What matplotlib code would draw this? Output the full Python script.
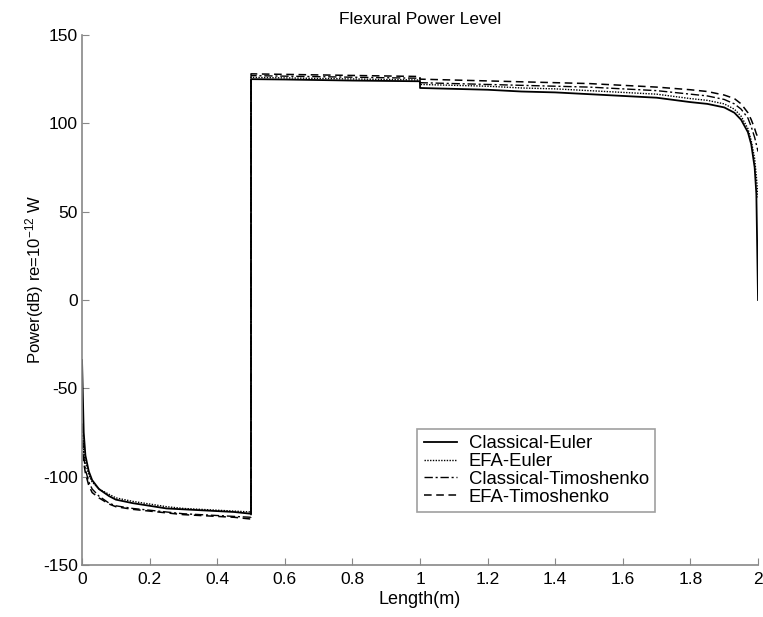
import matplotlib
matplotlib.use("Agg")
import matplotlib.pyplot as plt

plt.rcParams['font.family'] = ['Liberation Sans', 'DejaVu Sans']
plt.rcParams['axes.unicode_minus'] = False
plt.rcParams['mathtext.fontset'] = 'custom'
plt.rcParams['mathtext.rm'] = 'Liberation Sans'
plt.rcParams['mathtext.it'] = 'Liberation Sans'

x = [0, 0.005, 0.01, 0.02, 0.03, 0.05, 0.08, 0.1, 0.15, 0.2, 0.25, 0.3, 0.35, 0.4, 0.45, 0.4999,
     0.5, 0.6, 0.7, 0.8, 0.9, 0.9999, 1.0, 1.1, 1.2, 1.3, 1.4, 1.5, 1.6, 1.7, 1.8, 1.85, 1.9,
     1.93, 1.95, 1.97, 1.98, 1.99, 1.995, 2.0]

classical_euler = [-34, -75, -88, -97, -102, -107, -111, -113, -115, -116.5, -118, -118.5, -119, -119.5, -120, -121,
                   125, 124.8, 124.5, 124.2, 124, 123.8, 120, 119.5, 119, 118, 117.5, 116.5, 115.5, 114.5, 112, 111, 109,
                   106, 102, 95, 88, 75, 60, 0]
efa_euler = [-70, -85, -92, -99, -103, -107, -110, -112, -114, -115.5, -117, -118, -118.5, -119, -119.5, -120,
             126, 125.7, 125.4, 125.1, 124.8, 124.5, 122, 121.5, 121, 120, 119.5, 118.5, 117.5, 116.5, 114, 113, 111,
             108, 104, 97, 90, 80, 70, 58]
classical_timo = [-70, -88, -96, -103, -107, -111, -115, -116.5, -118, -119, -120, -121, -121.5, -122, -122.5, -123,
                  127, 126.7, 126.4, 126.1, 125.8, 125.5, 123, 122.5, 122, 121.5, 121, 120.5, 119.5, 118.5, 116.5, 115.5, 113.5,
                  111, 108, 103, 98, 92, 88, 84]
efa_timo = [-80, -92, -98, -105, -109, -112, -115.5, -117, -118.5, -119.5, -120.5, -121.5, -122, -122.5, -123, -124,
            128, 127.7, 127.4, 127.1, 126.8, 126.5, 125, 124.5, 124, 123.5, 123, 122.5, 121.5, 120.5, 119, 118, 116,
            114, 111, 106, 102, 97, 94, 92]

labels = ['Classical-Euler', 'EFA-Euler', 'Classical-Timoshenko', 'EFA-Timoshenko']
xticks = [0, 0.2, 0.4, 0.6, 0.8, 1, 1.2, 1.4, 1.6, 1.8, 2]
xticklabels = ['0', '0.2', '0.4', '0.6', '0.8', '1', '1.2', '1.4', '1.6', '1.8', '2']
yticks = [-150, -100, -50, 0, 50, 100, 150]

fig = plt.figure(figsize=(7.63, 6.17), dpi=100)
ax = fig.add_axes([0.1075, 0.0843, 0.886, 0.859])

ax.plot(x, classical_euler, color='black', lw=1.3, ls='-', label=labels[0])
ax.plot(x, efa_euler, color='black', lw=1.0, ls=(0, (1, 1)), label=labels[1])
ax.plot(x, classical_timo, color='black', lw=1.0, ls=(0, (6, 2, 1.5, 2)), label=labels[2])
ax.plot(x, efa_timo, color='black', lw=1.1, ls=(0, (5, 3)), label=labels[3])

ax.set_xlim(0, 2)
ax.set_ylim(-150, 150)
ax.set_xticks(xticks)
ax.set_xticklabels(xticklabels)
ax.set_yticks(yticks)
for s in ['top', 'right']:
    ax.spines[s].set_visible(False)
for s in ['left', 'bottom']:
    ax.spines[s].set_color('#888888')
    ax.spines[s].set_linewidth(1.2)
ax.tick_params(direction='in', length=5, color='#888888', labelsize=12.5)
ax.tick_params(axis='x', pad=5)
ax.tick_params(axis='y', pad=3)

ax.set_xlabel('Length(m)', fontsize=13, labelpad=3)
ax.set_ylabel('Power(dB) re=10$^{-12}$ W', fontsize=12)
ax.yaxis.set_label_coords(-0.053, 0.538)
ax.set_title('Flexural Power Level', fontsize=12.5, pad=8)

leg = ax.legend(loc='lower left', bbox_to_anchor=(0.4956, 0.1), borderaxespad=0, fontsize=13.3,
                frameon=True, fancybox=False, handlelength=1.8, borderpad=0.35, labelspacing=0.04,
                handletextpad=0.65)
leg.get_frame().set_edgecolor('#888888')
leg.get_frame().set_linewidth(1.2)

fig.savefig('out.png', dpi=100)
